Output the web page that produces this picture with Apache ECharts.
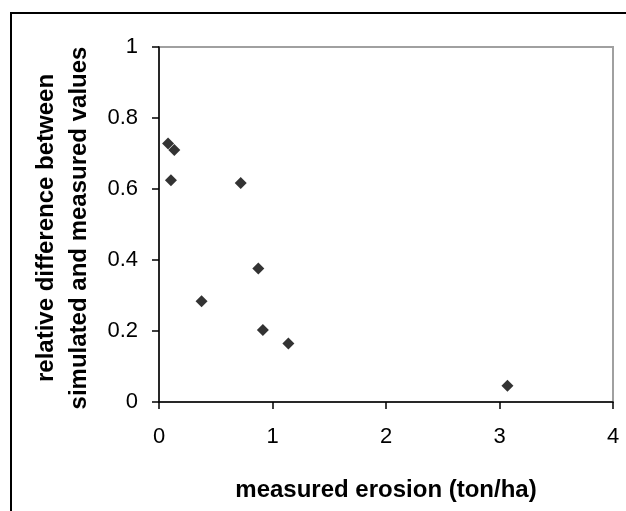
<!DOCTYPE html>
<html>
<head>
<meta charset="utf-8">
<script src="https://cdn.jsdelivr.net/npm/echarts@6/dist/echarts.min.js"></script>
<style>
  html, body { margin: 0; padding: 0; background: #fff; }
  #main { width: 626px; height: 511px; }
</style>
</head>
<body>
<div id="main"></div>
<script>
// measured erosion (ton/ha) vs relative difference
var measuredErosion = [0.08, 0.135, 0.105, 0.72, 0.375, 0.875, 0.915, 1.14, 3.07];
var relativeDiff = [0.728, 0.71, 0.625, 0.617, 0.284, 0.376, 0.203, 0.165, 0.046];
var xTicks = [0, 1, 2, 3, 4];
var yTicks = [0, 0.2, 0.4, 0.6, 0.8, 1];

var points = measuredErosion.map(function (x, i) { return [x, relativeDiff[i]]; });

var chart = echarts.init(document.getElementById('main'));
var font = 'Liberation Sans, Arial, sans-serif';

var option = {
  animation: false,
  backgroundColor: '#fff',
  grid: {
    left: 159, top: 47, right: 13, bottom: 109,
    containLabel: false,
    outerBoundsMode: 'none',
    show: true,
    borderColor: '#a0a0a0',
    borderWidth: 2,
    backgroundColor: 'transparent'
  },
  xAxis: {
    type: 'value',
    min: xTicks[0], max: xTicks[xTicks.length - 1], interval: 1,
    name: 'measured erosion (ton/ha)',
    nameLocation: 'middle',
    nameGap: 76,
    nameTextStyle: { fontFamily: font, fontSize: 24, fontWeight: 'bold', color: '#000' },
    axisLine: { onZero: false, lineStyle: { color: '#000', width: 1.5 } },
    axisTick: { inside: false, length: 7, lineStyle: { color: '#000', width: 1.5 } },
    axisLabel: { margin: 24, fontFamily: font, fontSize: 22, color: '#000' },
    splitLine: { show: false }
  },
  yAxis: {
    type: 'value',
    min: yTicks[0], max: yTicks[yTicks.length - 1], interval: 0.2,
    axisLine: { show: true, onZero: false, lineStyle: { color: '#000', width: 1.5 } },
    axisTick: { show: true, inside: false, length: 7, lineStyle: { color: '#000', width: 1.5 } },
    axisLabel: { margin: 21, fontFamily: font, fontSize: 22, color: '#000' },
    splitLine: { show: false }
  },
  graphic: [
    {
      type: 'rect',
      shape: { x: 11, y: 13, width: 700, height: 600 },
      style: { fill: 'none', stroke: '#000', lineWidth: 2 },
      silent: true
    },
    {
      type: 'text',
      x: 63, y: 228,
      rotation: Math.PI / 2,
      style: {
        text: 'relative difference between\nsimulated and measured values',
        fontFamily: font, fontSize: 24, fontWeight: 'bold', fill: '#000',
        align: 'center', verticalAlign: 'middle', lineHeight: 33
      }
    }
  ],
  series: [{
    type: 'scatter',
    symbol: 'diamond',
    symbolSize: 12,
    itemStyle: { color: '#000' },
    data: points
  }]
};
chart.setOption(option);
</script>
</body>
</html>
